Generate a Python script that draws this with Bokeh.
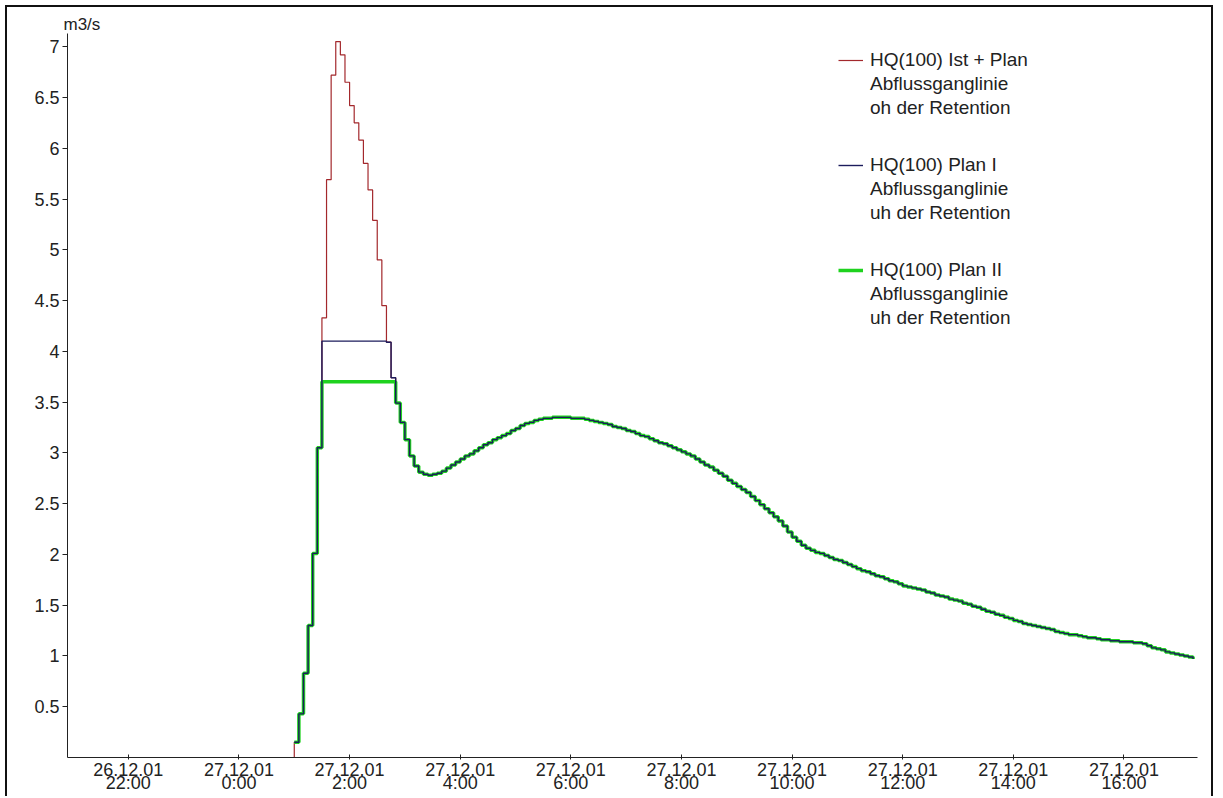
import numpy as np
from bokeh.plotting import figure
from bokeh.models import Range1d, FixedTicker, Legend, LegendItem
from bokeh.embed import file_html
from bokeh.resources import INLINE

# ---------------- data ----------------
STEP_MINUTES = 5          # time step of the series; hour 0 = 27.12.01 0:00
PLAN_START_STEP = 12      # the two "Plan" series start at 1:00

tick_hours = [-2, 0, 2, 4, 6, 8, 10, 12, 14, 16]
tick_labels = ["26.12.01\n22:00", "27.12.01\n0:00", "27.12.01\n2:00", "27.12.01\n4:00",
               "27.12.01\n6:00", "27.12.01\n8:00", "27.12.01\n10:00", "27.12.01\n12:00",
               "27.12.01\n14:00", "27.12.01\n16:00"]
y_ticks = [0.5, 1, 1.5, 2, 2.5, 3, 3.5, 4, 4.5, 5, 5.5, 6, 6.5, 7]
y_tick_labels = ["0.5", "1", "1.5", "2", "2.5", "3", "3.5", "4", "4.5", "5", "5.5", "6", "6.5", "7"]

# Ist + Plan, 0:00 - 3:35
q_ist_head = [0, 0, 0, 0, 0, 0, 0, 0, 0, 0, 0, 0,
              0.15, 0.43, 0.83, 1.30, 2.01, 3.05, 4.33, 5.69, 6.72, 7.05, 6.92, 6.65,
              6.42, 6.25, 6.08, 5.85, 5.59, 5.29, 4.90, 4.45, 4.09, 3.74, 3.49, 3.30,
              3.13, 2.97, 2.87, 2.81, 2.79, 2.78, 2.79, 2.80]
# Plan I, 1:00 - 3:35
q_plan1_head = [0.15, 0.43, 0.83, 1.30, 2.01, 3.05, 4.10, 4.10, 4.10, 4.10, 4.10, 4.10,
                4.10, 4.10, 4.10, 4.10, 4.10, 4.10, 4.10, 4.10, 4.09, 3.74, 3.49, 3.30,
                3.13, 2.97, 2.87, 2.81, 2.79, 2.78, 2.79, 2.80]
# Plan II, 1:00 - 3:35
q_plan2_head = [0.15, 0.43, 0.83, 1.30, 2.01, 3.05, 3.70, 3.70, 3.70, 3.70, 3.70, 3.70,
                3.70, 3.70, 3.70, 3.70, 3.70, 3.70, 3.70, 3.70, 3.70, 3.70, 3.49, 3.30,
                3.13, 2.97, 2.87, 2.81, 2.79, 2.78, 2.79, 2.80]

# common part from 3:40 to 17:15 (identical for all three series)
q_common_tail = [
    2.82, 2.85, 2.88, 2.91, 2.94, 2.97, 2.99, 3.02, 3.05, 3.08, 3.10, 3.13,
    3.15, 3.17, 3.19, 3.22, 3.24, 3.27, 3.29, 3.30, 3.32, 3.33, 3.34, 3.34,
    3.35, 3.35, 3.35, 3.35, 3.34, 3.34, 3.34, 3.33, 3.32, 3.31, 3.30, 3.29,
    3.28, 3.26, 3.25, 3.24, 3.22, 3.21, 3.19, 3.17, 3.16, 3.14, 3.12, 3.10,
    3.09, 3.07, 3.05, 3.03, 3.01, 2.99, 2.97, 2.94, 2.91, 2.88, 2.86, 2.83,
    2.80, 2.77, 2.73, 2.70, 2.67, 2.64, 2.61, 2.57, 2.53, 2.49, 2.45, 2.41,
    2.37, 2.33, 2.28, 2.22, 2.17, 2.13, 2.09, 2.06, 2.04, 2.02, 2.01, 1.99,
    1.97, 1.95, 1.94, 1.92, 1.90, 1.88, 1.86, 1.84, 1.83, 1.81, 1.79, 1.78,
    1.76, 1.74, 1.73, 1.71, 1.69, 1.68, 1.67, 1.66, 1.65, 1.63, 1.62, 1.60,
    1.59, 1.58, 1.56, 1.55, 1.54, 1.52, 1.51, 1.49, 1.48, 1.46, 1.44, 1.43,
    1.41, 1.40, 1.38, 1.37, 1.35, 1.34, 1.32, 1.31, 1.30, 1.29, 1.28, 1.27,
    1.26, 1.24, 1.23, 1.22, 1.21, 1.21, 1.20, 1.19, 1.18, 1.18, 1.17, 1.16,
    1.16, 1.15, 1.15, 1.14, 1.14, 1.14, 1.13, 1.13, 1.12, 1.10, 1.08, 1.07,
    1.06, 1.04, 1.03, 1.02, 1.01, 1.00, 0.99, 0.97]

q_ist = q_ist_head + q_common_tail
q_plan1 = q_plan1_head + q_common_tail
q_plan2 = q_plan2_head + q_common_tail
hours = (np.arange(len(q_ist)) * STEP_MINUTES / 60.0).tolist()
hours_plan = hours[PLAN_START_STEP:]

legend_line1 = ["HQ(100) Ist + Plan", "HQ(100) Plan I", "HQ(100) Plan II"]
legend_line2 = ["Abflussganglinie", "Abflussganglinie", "Abflussganglinie"]
legend_line3 = ["oh der Retention", "uh der Retention", "uh der Retention"]

# ---------------- figure ----------------
FONT = "Liberation Sans"
TXT = "#222222"
p = figure(width=1208, height=791, output_backend="svg", toolbar_location=None,
           x_range=Range1d(-3.10, 17.33), y_range=Range1d(0, 7.13),
           min_border_left=60, min_border_right=18, min_border_top=26, min_border_bottom=41)
p.margin = (5, 0, 0, 5)
p.styles = {"border-top": "2px solid #111", "border-left": "2px solid #111",
            "border-right": "2px solid #111"}
p.outline_line_color = None
p.xgrid.visible = False
p.ygrid.visible = False

p.title.text = "m3/s"
p.title.align = "left"
p.title.offset = -4
p.title.standoff = 0
p.title.text_font = FONT
p.title.text_font_size = "17px"
p.title.text_font_style = "normal"
p.title.text_color = TXT

r_ist = p.step(hours, q_ist, mode="after", line_color="#a3282c", line_width=1.2)
r_p2 = p.step(hours_plan, q_plan2, mode="after", line_color="#1fd21f", line_width=3.5)
r_p1 = p.step(hours_plan, q_plan1, mode="after", line_color="#1c1c5c", line_width=1.4)
r_dummy = p.line([], [], line_alpha=0)

xa = p.xaxis[0]
xa.ticker = FixedTicker(ticks=tick_hours)
xa.major_label_overrides = {h: lab for h, lab in zip(tick_hours, tick_labels)}
xa.minor_tick_line_color = None
xa.major_tick_in = 3
xa.major_tick_out = 2
xa.major_label_standoff = 0
xa.major_label_text_font = FONT
xa.major_label_text_font_size = "18px"
xa.major_label_text_line_height = 0.65
xa.major_label_text_color = TXT
xa.axis_line_color = TXT
xa.major_tick_line_color = TXT

ya = p.yaxis[0]
ya.ticker = FixedTicker(ticks=y_ticks)
ya.major_label_overrides = {v: lab for v, lab in zip(y_ticks, y_tick_labels)}
ya.minor_tick_line_color = None
ya.major_tick_in = 0
ya.major_tick_out = 5
ya.major_label_standoff = 3
ya.major_label_text_font = FONT
ya.major_label_text_font_size = "18px"
ya.major_label_text_color = TXT
ya.axis_line_color = TXT
ya.major_tick_line_color = TXT


def make_legend(labels, renderers, loc, glyph_width, standoff):
    lg = Legend(items=[LegendItem(label=lab, renderers=[r]) for lab, r in zip(labels, renderers)],
                location=loc)
    lg.padding = 0
    lg.margin = 0
    lg.spacing = 81
    lg.glyph_width = glyph_width
    lg.glyph_height = 24
    lg.label_standoff = standoff
    lg.label_height = 24
    lg.label_text_font = FONT
    lg.label_text_font_size = "19px"
    lg.label_text_color = TXT
    lg.border_line_color = None
    lg.background_fill_alpha = 0
    return lg


p.add_layout(make_legend(legend_line1, [r_ist, r_p1, r_p2], (771, 475), 25, 7))
p.add_layout(make_legend(legend_line2, [r_dummy] * 3, (803, 451), 0, 0))
p.add_layout(make_legend(legend_line3, [r_dummy] * 3, (803, 427), 0, 0))

open("out.html", "w").write(file_html(p, INLINE))
